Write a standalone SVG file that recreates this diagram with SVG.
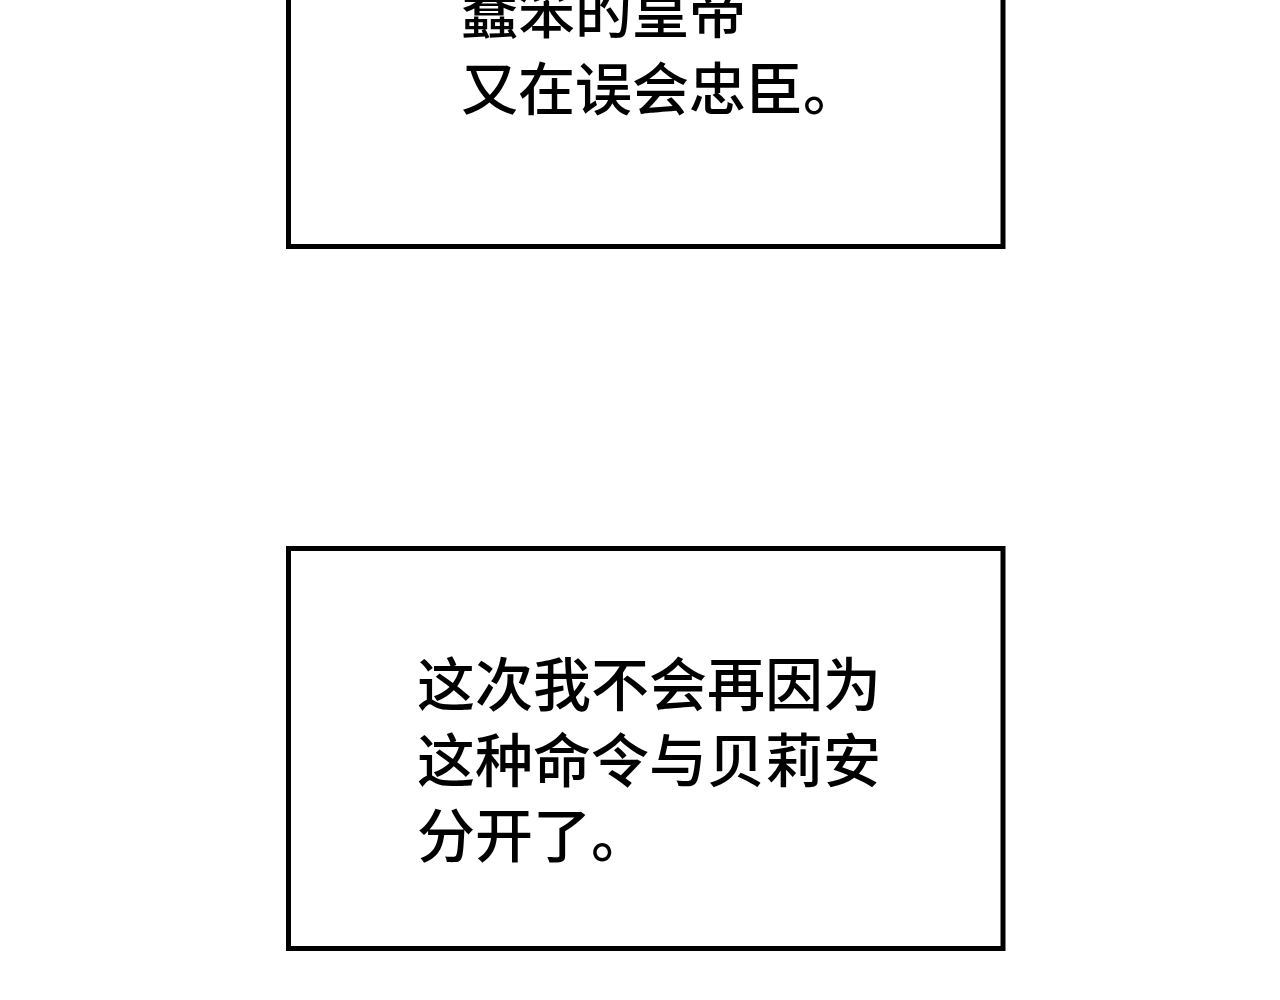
<svg xmlns="http://www.w3.org/2000/svg" width="1280" height="1000" viewBox="0 0 1280 1000">
<style>
.box{fill:#fff;stroke:#000;stroke-width:5}
.t{font-family:"Noto Sans CJK SC",sans-serif;font-weight:500;fill:#000}
</style>
<rect width="1280" height="1000" fill="#fff"/>
<g id="box1">
<rect class="box" x="288.500" y="-20" width="714.500" height="266.500"/>
<text class="t" x="461" y="33" font-size="57">蠢笨的皇帝</text>
<text class="t" x="461" y="110" font-size="57">又在误会忠臣。</text>
</g>
<g id="box2">
<rect class="box" x="288.500" y="548.500" width="714.500" height="400"/>
<text class="t" x="417" y="706" font-size="58">这次我不会再因为</text>
<text class="t" x="417" y="782" font-size="58">这种命令与贝莉安</text>
<text class="t" x="417" y="857" font-size="58">分开了。</text>
</g>
<g id="connectors"/>
</svg>
